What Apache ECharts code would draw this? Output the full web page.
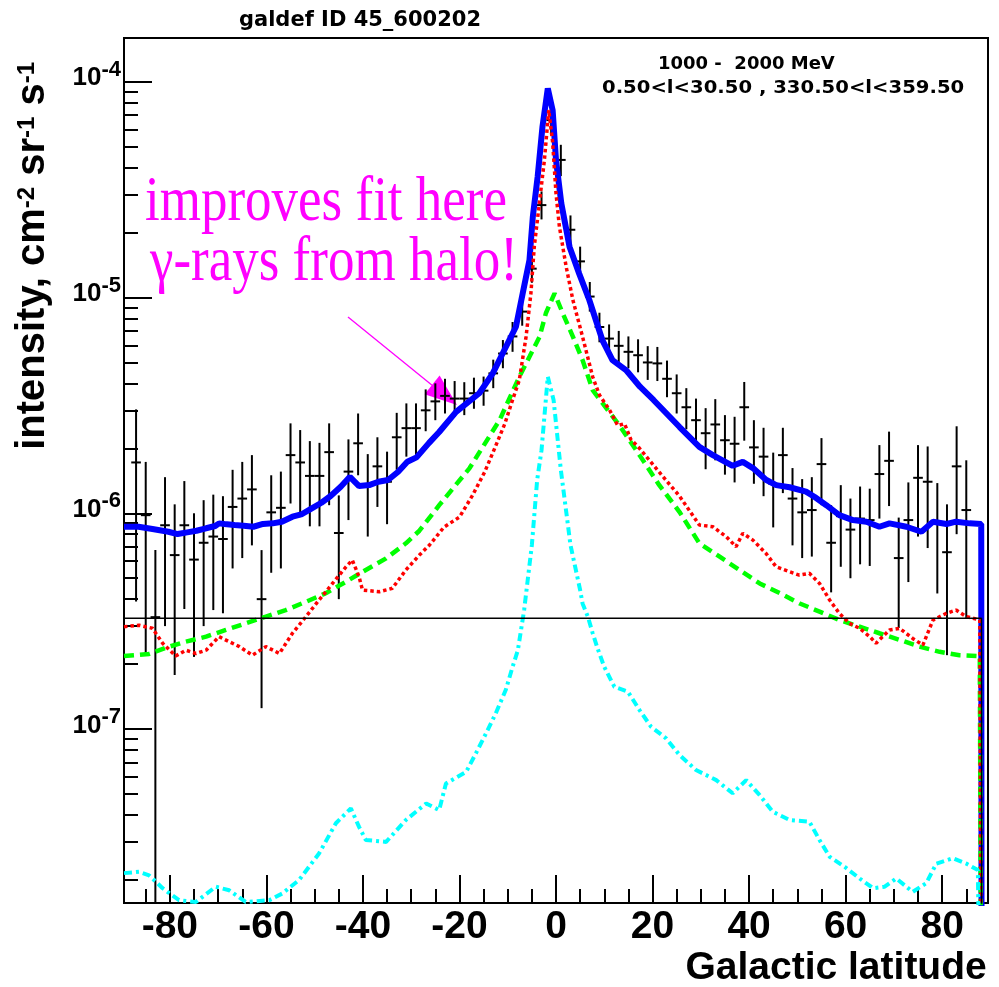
<!DOCTYPE html>
<html>
<head>
<meta charset="utf-8">
<script src="https://cdn.jsdelivr.net/npm/echarts@6/dist/echarts.min.js"></script>
<style>
html, body { margin: 0; padding: 0; background: #fff; }
#chart { width: 999px; height: 987px; }
</style>
</head>
<body>
<div id="chart"></div>
<script>
// Measured latitude profile: bin centres (deg), intensity and 1-sigma bounds
const dataLat = [-87,-85,-83,-81,-79,-77,-75,-73,-71,-69,-67,-65,-63,-61,-59,-57,-55,-53,-51,-49,-47,-45,-43,-41,-39,-37,-35,-33,-31,-29,
  -27,-25,-23,-21,-19,-17,-15,-13,-11,-9,-7,-5,-3,-1,1,3,5,7,9,11,13,15,17,19,21,23,25,27,29,
  31,33,35,37,39,41,43,45,47,49,51,53,55,57,59,61,63,65,67,69,71,73,75,77,79,81,83,85];
const dataFlux = [1.72e-6,9.8e-7,3.3e-7,8.8e-7,6.4e-7,8.8e-7,6.1e-7,7.3e-7,7.8e-7,7.6e-7,1.07e-6,1.17e-6,1.29e-6,4.0e-7,1.01e-6,1.06e-6,1.86e-6,1.72e-6,1.49e-6,1.49e-6,1.92e-6,8.1e-7,1.56e-6,2.11e-6,1.35e-6,1.65e-6,1.40e-6,2.25e-6,2.48e-6,2.48e-6,
  3.0e-6,3.3e-6,3.5e-6,3.4e-6,3.4e-6,3.6e-6,3.7e-6,4.45e-6,5.5e-6,6.6e-6,8.6e-6,1.36e-5,2.68e-5,6.64e-5,4.34e-5,2.06e-5,1.47e-5,1.01e-5,7.3e-6,6.45e-6,5.97e-6,5.6e-6,5.4e-6,5.0e-6,4.95e-6,4.2e-6,3.6e-6,3.1e-6,2.7e-6,
  2.35e-6,2.58e-6,2.18e-6,2.10e-6,3.10e-6,2.02e-6,1.83e-6,1.37e-6,1.86e-6,1.17e-6,1.01e-6,1.035e-6,1.69e-6,7.3e-7,9.7e-7,8.4e-7,9.45e-7,9.3e-7,1.52e-6,1.75e-6,6.2e-7,9.3e-7,1.46e-6,1.40e-6,9.1e-7,6.6e-7,1.65e-6,1.035e-6];
const dataLow = [3.9e-7,2.24e-7,1e-9,3.0e-7,1.78e-7,3.6e-7,2.16e-7,3.0e-7,3.56e-7,3.44e-7,5.55e-7,6.2e-7,7.1e-7,1.25e-7,5.3e-7,5.55e-7,1.11e-6,9.6e-7,8.7e-7,8.7e-7,1.09e-6,4.0e-7,9.3e-7,1.50e-6,7.8e-7,1.07e-6,8.9e-7,1.59e-6,1.83e-6,1.83e-6,
  2.4e-6,2.7e-6,2.9e-6,2.8e-6,2.85e-6,3.05e-6,3.15e-6,3.8e-6,4.7e-6,5.6e-6,7.4e-6,1.17e-5,2.3e-5,5.7e-5,3.65e-5,1.75e-5,1.25e-5,8.6e-6,6.2e-6,5.4e-6,5.0e-6,4.7e-6,4.5e-6,4.15e-6,4.1e-6,3.45e-6,2.9e-6,2.45e-6,2.1e-6,
  1.60e-6,1.76e-6,1.51e-6,1.39e-6,2.17e-6,1.37e-6,1.20e-6,8.6e-7,1.24e-6,7.1e-7,6.2e-7,6.3e-7,1.09e-6,4.3e-7,5.65e-7,5.0e-7,5.8e-7,5.7e-7,9.45e-7,1.08e-6,2.94e-7,4.8e-7,7.8e-7,6.9e-7,4.25e-7,2.2e-7,8.0e-7,3.25e-7];
const dataHigh = [3.03e-6,1.73e-6,6.75e-7,1.47e-6,1.10e-6,1.41e-6,1.00e-6,1.15e-6,1.22e-6,1.20e-6,1.59e-6,1.73e-6,1.86e-6,6.75e-7,1.50e-6,1.56e-6,2.61e-6,2.43e-6,2.16e-6,2.12e-6,2.61e-6,1.21e-6,2.20e-6,2.90e-6,1.88e-6,2.25e-6,1.93e-6,2.92e-6,3.23e-6,3.23e-6,
  3.75e-6,4.0e-6,4.2e-6,4.1e-6,4.05e-6,4.25e-6,4.3e-6,5.15e-6,6.35e-6,7.7e-6,1.0e-5,1.57e-5,3.1e-5,7.7e-5,5.1e-5,2.4e-5,1.72e-5,1.18e-5,8.5e-6,7.5e-6,7.0e-6,6.6e-6,6.4e-6,5.95e-6,5.9e-6,5.1e-6,4.4e-6,3.8e-6,3.4e-6,
  3.07e-6,3.38e-6,2.85e-6,2.80e-6,4.06e-6,2.70e-6,2.49e-6,1.91e-6,2.49e-6,1.62e-6,1.44e-6,1.47e-6,2.23e-6,1.09e-6,1.35e-6,1.17e-6,1.33e-6,1.30e-6,2.07e-6,2.39e-6,9.55e-7,1.39e-6,2.07e-6,2.04e-6,1.38e-6,1.10e-6,2.53e-6,1.76e-6];

// Total model (blue)
const totalLat = [-89.5,-86.5,-83.6,-80.3,-78.4,-76.4,-74.5,-72.5,-70.6,-69.8,-68.7,-66.6,-64.7,-62.7,-60.7,-58.7,-56.8,-54.6,-52.6,-50.6,-48.6,-46.7,-44.6,-42.7,-40.8,-38.7,-36.8,-34.8,-32.7,-30.8,-28.9,-26.3,-24.2,-20.7,-15.9,-13.1,-10.7,-8.3,-6.9,-5.5,-4.8,-3.8,-2.8,-1.7,-0.7,0.0,1.1,2.8,4.8,6.9,9.6,11.7,14.5,17.4,20.2,25.6,29.7,32.5,34.5,36.6,38.7,40.8,43.5,45.6,48.4,51.8,53.6,56.0,58.7,61.5,64.3,67.0,69.1,72.6,75.7,78.1,80.9,82.9,85.7,88.1,88.2];
const totalFlux = [8.66e-7,8.66e-7,8.45e-7,8.21e-7,8.01e-7,8.16e-7,8.30e-7,8.52e-7,8.73e-7,8.98e-7,8.92e-7,8.82e-7,8.75e-7,8.66e-7,8.92e-7,8.98e-7,9.14e-7,9.64e-7,9.92e-7,1.054e-6,1.119e-6,1.202e-6,1.327e-6,1.476e-6,1.337e-6,1.351e-6,1.40e-6,1.426e-6,1.558e-6,1.733e-6,1.816e-6,2.12e-6,2.38e-6,2.95e-6,3.60e-6,4.45e-6,5.71e-6,7.32e-6,1.045e-5,1.49e-5,2.37e-5,3.63e-5,6.19e-5,9.32e-5,7.39e-5,4.34e-5,2.73e-5,1.72e-5,1.29e-5,9.73e-6,6.35e-6,5.13e-6,4.61e-6,3.86e-6,3.35e-6,2.51e-6,2.03e-6,1.86e-6,1.76e-6,1.66e-6,1.73e-6,1.62e-6,1.43e-6,1.35e-6,1.32e-6,1.26e-6,1.19e-6,1.09e-6,9.81e-7,9.30e-7,9.14e-7,8.66e-7,8.98e-7,8.66e-7,8.21e-7,9.14e-7,8.92e-7,9.14e-7,8.98e-7,8.92e-7,1e-9];

// pi0-decay component (green, dashed)
const pionLat = [-89.5,-84.3,-80.1,-76.7,-72.5,-68.4,-64.3,-60.1,-56.0,-51.8,-47.7,-43.5,-39.4,-35.2,-31.1,-28.3,-24.2,-17.9,-11.7,-7.6,-5.5,-3.4,-2.1,-0.3,1.4,3.5,5.5,7.6,13.1,17.3,21.4,25.6,29.7,33.9,38.0,42.2,46.4,50.5,54.6,58.7,62.9,67.0,71.2,75.3,79.5,83.6,87.8,88.2];
const pionFlux = [2.18e-7,2.23e-7,2.41e-7,2.54e-7,2.68e-7,2.88e-7,3.09e-7,3.32e-7,3.56e-7,3.89e-7,4.26e-7,4.82e-7,5.46e-7,6.18e-7,7.26e-7,8.3e-7,1.09e-6,1.62e-6,2.70e-6,4.29e-6,5.31e-6,6.58e-6,8.45e-6,1.045e-5,8.45e-6,6.58e-6,5.13e-6,3.72e-6,2.56e-6,1.86e-6,1.35e-6,1.013e-6,7.26e-7,6.29e-7,5.46e-7,4.73e-7,4.26e-7,3.82e-7,3.50e-7,3.20e-7,2.98e-7,2.78e-7,2.59e-7,2.41e-7,2.28e-7,2.20e-7,2.18e-7,1e-9];

// Inverse-Compton component (red, dotted)
const icLat = [-89.5,-86.4,-83.6,-81.5,-78.8,-76.7,-74.6,-72.5,-69.8,-67.7,-65.6,-62.9,-60.1,-57.3,-54.6,-51.8,-49.1,-46.3,-43.5,-42.2,-40.8,-40.1,-36.6,-33.9,-31.1,-28.3,-26.2,-23.2,-20.0,-17.3,-14.8,-12.7,-10.6,-9.1,-7.6,-6.2,-5.2,-4.5,-3.45,-2.4,-1.5,-0.7,0.0,0.7,2.1,3.5,5.5,7.6,9.0,11.1,12.8,14.2,15.5,17.3,21.4,25.6,29.7,32.5,35.3,37.3,38.7,40.8,43.5,45.6,48.4,50.4,52.5,54.6,56.7,58.7,60.8,62.9,65.0,66.3,69.1,71.2,73.9,76.0,78.1,80.9,82.9,85.0,87.8,88.2];
const icFlux = [2.98e-7,3.03e-7,2.93e-7,2.50e-7,2.18e-7,2.32e-7,2.24e-7,2.32e-7,2.68e-7,2.54e-7,2.41e-7,2.20e-7,2.41e-7,2.24e-7,2.78e-7,3.32e-7,3.96e-7,4.73e-7,5.65e-7,6.07e-7,5.08e-7,4.41e-7,4.33e-7,4.49e-7,5.46e-7,6.40e-7,7.13e-7,8.63e-7,9.60e-7,1.21e-6,1.55e-6,2.0e-6,2.6e-6,3.3e-6,4.14e-6,6.58e-6,1.045e-5,1.72e-5,2.73e-5,4.34e-5,7.39e-5,5.25e-5,3.04e-5,2.13e-5,1.39e-5,9.73e-6,6.58e-6,4.29e-6,3.53e-6,3.01e-6,2.55e-6,2.6e-6,2.2e-6,2.0e-6,1.55e-6,1.2e-6,8.82e-7,8.66e-7,7.78e-7,7.0e-7,8.07e-7,7.51e-7,6.52e-7,5.65e-7,5.36e-7,5.17e-7,5.27e-7,4.73e-7,3.96e-7,3.44e-7,3.09e-7,2.93e-7,2.68e-7,2.50e-7,2.88e-7,2.93e-7,2.63e-7,2.45e-7,3.20e-7,3.44e-7,3.56e-7,3.32e-7,3.20e-7,1e-9];

// Bremsstrahlung component (cyan, dash-dot)
const bremLat = [-89.5,-86.4,-84.3,-81.5,-78.1,-74.6,-70.5,-67.7,-64.3,-59.4,-56.7,-53.2,-49.1,-45.6,-42.5,-40.8,-39.4,-35.2,-31.1,-26.9,-24.2,-22.8,-18.6,-16.6,-14.5,-12.5,-10.4,-9.0,-7.9,-6.6,-5.0,-3.9,-3.0,-1.7,-0.5,1.0,3.0,5.0,5.5,6.6,7.6,8.6,10.0,12.1,14.9,17.3,19.7,22.8,25.6,29.0,33.2,36.6,39.4,42.2,44.9,48.4,52.5,54.6,56.7,59.8,62.9,65.7,68.1,70.5,73.9,76.7,78.8,82.2,85.0,87.4,88.2];
const bremFlux = [2.15e-8,2.18e-8,2.10e-8,1.83e-8,1.61e-8,1.58e-8,1.86e-8,1.79e-8,1.58e-8,1.61e-8,1.73e-8,2.0e-8,2.65e-8,3.66e-8,4.29e-8,3.52e-8,3.06e-8,3.0e-8,3.79e-8,4.52e-8,4.21e-8,5.60e-8,6.34e-8,7.72e-8,9.55e-8,1.18e-7,1.52e-7,1.94e-7,2.32e-7,3.56e-7,7.13e-7,1.43e-6,1.96e-6,4.29e-6,3.35e-6,1.59e-6,7.13e-7,4.41e-7,3.82e-7,3.32e-7,2.78e-7,2.37e-7,1.94e-7,1.57e-7,1.49e-7,1.225e-7,1.025e-7,9.06e-8,7.58e-8,6.46e-8,5.80e-8,5.04e-8,5.80e-8,4.94e-8,4.14e-8,3.79e-8,3.72e-8,3.06e-8,2.56e-8,2.30e-8,2.03e-8,1.83e-8,1.86e-8,2.03e-8,1.76e-8,1.93e-8,2.38e-8,2.52e-8,2.38e-8,2.22e-8,1e-9];

// Isotropic background (black)
const isoLat = [-89.5, 88.15, 88.2];
const isoFlux = [3.26e-7, 3.26e-7, 1e-9];

// Axis ranges and tick positions
const latRange = [-89.5, 89.5];
const fluxRange = [1.563e-8, 1.594e-4];
const latMajor = [-80, -60, -40, -20, 0, 20, 40, 60, 80];
const latMinor = [-85,-75,-70,-65,-55,-50,-45,-35,-30,-25,-15,-10,-5,5,10,15,25,30,35,45,50,55,65,70,75,85];
const decades = [-7, -6, -5, -4];

const lg = Math.log10;
const yMin = lg(fluxRange[0]), yMax = lg(fluxRange[1]);
const minorLog = [];
for (let n = -8; n <= -4; n++) {
  for (let k = 2; k <= 9; k++) {
    const v = lg(k) + n;
    if (v > yMin && v < yMax) minorLog.push(v);
  }
}

const curve = (lat, flux) => lat.map((b, i) => [b, lg(flux[i])]);
const points = dataLat.map((b, i) => [b, lg(dataFlux[i]), lg(dataLow[i]), lg(dataHigh[i])]);

const SANS = 'Liberation Sans';
const tickStyle = { color: '#000', width: 2 };
const noLine = { show: false, onZero: false };

const chart = echarts.init(document.getElementById('chart'), null, { renderer: 'canvas' });

chart.setOption({
  animation: false,
  backgroundColor: '#fff',
  grid: {
    left: 124, top: 38, right: 11, bottom: 84,
    containLabel: false, outerBoundsMode: 'none',
    show: true, borderColor: '#000', borderWidth: 2, backgroundColor: 'transparent'
  },
  xAxis: [
    {
      type: 'value', min: latRange[0], max: latRange[1], position: 'bottom',
      splitLine: { show: false }, axisLine: noLine,
      axisTick: { show: true, inside: true, length: 28, customValues: latMajor, lineStyle: tickStyle },
      axisLabel: {
        show: true, customValues: latMajor, margin: 5,
        formatter: v => String(v),
        color: '#000', fontFamily: SANS, fontWeight: 'bold', fontSize: 39
      }
    },
    {
      type: 'value', min: latRange[0], max: latRange[1], position: 'bottom', gridIndex: 0,
      splitLine: { show: false }, axisLine: noLine, axisLabel: { show: false },
      axisTick: { show: true, inside: true, length: 14, customValues: latMinor, lineStyle: tickStyle }
    }
  ],
  yAxis: [
    {
      type: 'value', min: yMin, max: yMax, position: 'left',
      splitLine: { show: false }, axisLine: noLine,
      axisTick: { show: true, inside: true, length: 28, customValues: decades, lineStyle: tickStyle },
      axisLabel: {
        show: true, customValues: decades, margin: 3,
        formatter: v => '{b|10}{e|' + v + '}',
        rich: {
          b: { fontFamily: SANS, fontWeight: 'bold', fontSize: 26, color: '#000', padding: [0, 0, 7, 0] },
          e: { fontFamily: SANS, fontWeight: 'bold', fontSize: 22, color: '#000', padding: [0, 0, 24, 0] }
        }
      }
    },
    {
      type: 'value', min: yMin, max: yMax, position: 'left', gridIndex: 0,
      splitLine: { show: false }, axisLine: noLine, axisLabel: { show: false },
      axisTick: { show: true, inside: true, length: 14, customValues: minorLog, lineStyle: tickStyle }
    }
  ],
  series: [
    {
      name: 'total', type: 'line', data: curve(totalLat, totalFlux),
      showSymbol: false, symbol: 'none', clip: true,
      lineStyle: { color: '#0000ff', width: 6 }
    },
    {
      name: 'pi0', type: 'line', data: curve(pionLat, pionFlux),
      showSymbol: false, symbol: 'none', clip: true,
      lineStyle: { color: '#00ff00', width: 4.5, type: [10, 6] }
    },
    {
      name: 'IC', type: 'line', data: curve(icLat, icFlux),
      showSymbol: false, symbol: 'none', clip: true,
      lineStyle: { color: '#ff0000', width: 3.5, type: [3.5, 3] }
    },
    {
      name: 'bremss', type: 'line', data: curve(bremLat, bremFlux),
      showSymbol: false, symbol: 'none', clip: true,
      lineStyle: { color: '#00ffff', width: 4, type: [8, 4, 3, 4] }
    },
    {
      name: 'isotropic', type: 'line', data: curve(isoLat, isoFlux),
      showSymbol: false, symbol: 'none', clip: true,
      lineStyle: { color: '#000', width: 1.5 }
    },
    {
      name: 'data', type: 'custom', clip: true,
      data: points,
      encode: { x: 0, y: 1 },
      renderItem: (params, api) => {
        const b = api.value(0), v = api.value(1), lo = api.value(2), hi = api.value(3);
        const left = api.coord([b - 1, v]);
        const right = api.coord([b + 1, v]);
        const top = api.coord([b, hi]);
        const bot = api.coord([b, lo]);
        const st = { stroke: '#000', lineWidth: 2 };
        return {
          type: 'group',
          children: [
            { type: 'line', shape: { x1: left[0], y1: left[1], x2: right[0], y2: right[1] }, style: st },
            { type: 'line', shape: { x1: top[0], y1: top[1], x2: bot[0], y2: bot[1] }, style: st }
          ]
        };
      }
    }
  ],
  graphic: [
    {
      type: 'text', x: 360, y: 21,
      style: { text: 'galdef ID 45_600202', fontFamily: 'DejaVu Sans', fontWeight: 'bold', fontSize: 21,
        fill: '#000', align: 'center', verticalAlign: 'middle', textAlign: 'center', textVerticalAlign: 'middle' }
    },
    {
      type: 'text', x: 658, y: 64,
      style: { text: '1000 -  2000 MeV', fontFamily: 'DejaVu Sans', fontWeight: 'bold', fontSize: 18,
        fill: '#000', align: 'left', verticalAlign: 'middle', textAlign: 'left', textVerticalAlign: 'middle' }
    },
    {
      type: 'text', x: 602, y: 88.3, scaleX: 1.09,
      style: { text: '0.50<l<30.50 , 330.50<l<359.50', fontFamily: 'DejaVu Sans', fontWeight: 'bold', fontSize: 18,
        fill: '#000', align: 'left', verticalAlign: 'middle', textAlign: 'left', textVerticalAlign: 'middle' }
    },
    {
      type: 'text', x: 986.7, y: 968.5,
      style: { text: 'Galactic latitude', fontFamily: SANS, fontWeight: 'bold', fontSize: 39,
        fill: '#000', align: 'right', verticalAlign: 'middle', textAlign: 'right', textVerticalAlign: 'middle' }
    },
    {
      type: 'text', x: 33, y: 62, rotation: Math.PI / 2,
      style: {
        text: '{a|intensity, cm}{s|-2}{a| sr}{s|-1}{a| s}{s|-1}',
        fill: '#000', align: 'right', verticalAlign: 'middle', textAlign: 'right', textVerticalAlign: 'middle',
        rich: {
          a: { fontFamily: SANS, fontWeight: 'bold', fontSize: 40, fill: '#000' },
          s: { fontFamily: SANS, fontWeight: 'bold', fontSize: 24, fill: '#000', padding: [0, 0, 12, 0] }
        }
      }
    },
    {
      type: 'text', x: 145, y: 203.8, scaleY: 1.19,
      style: { text: 'improves fit here', fontFamily: 'Liberation Serif', fontSize: 53,
        fill: '#ff00ff', align: 'left', verticalAlign: 'middle', textAlign: 'left', textVerticalAlign: 'middle' }
    },
    {
      type: 'text', x: 150, y: 263.8, scaleY: 1.19,
      style: { text: '\u03b3-rays from halo!', fontFamily: 'Liberation Serif', fontSize: 53,
        fill: '#ff00ff', align: 'left', verticalAlign: 'middle', textAlign: 'left', textVerticalAlign: 'middle' }
    },
    {
      type: 'line', shape: { x1: 348, y1: 317, x2: 433, y2: 386 },
      style: { stroke: '#ff00ff', lineWidth: 1.3 }
    },
    {
      type: 'polygon', shape: { points: [[457, 405], [424.6, 394.2], [439.6, 375.6]] },
      style: { fill: '#ff00ff' }
    }
  ]
});
</script>
</body>
</html>
